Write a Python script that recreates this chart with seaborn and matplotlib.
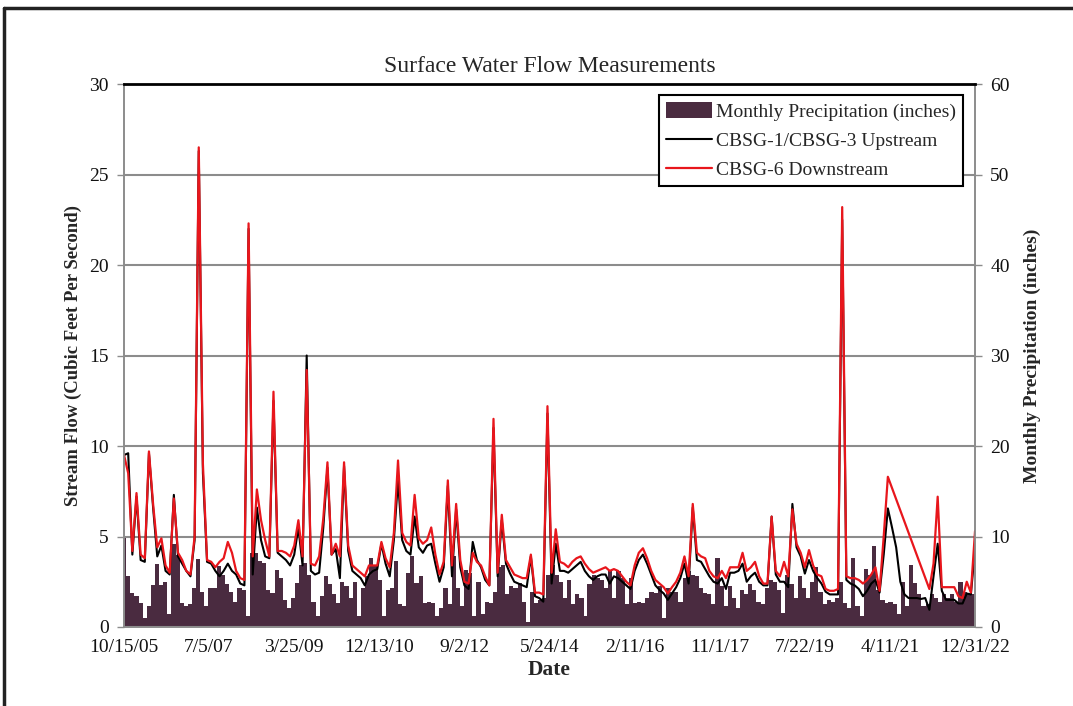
import numpy as np
import pandas as pd
import seaborn as sns
import matplotlib.pyplot as plt
from matplotlib.lines import Line2D
from matplotlib.patches import Patch

# monthly precipitation (inches), Oct 2005 -> Dec 2022
precip = [
    9.8, 5.6, 3.8, 3.4, 2.7, 1.0, 2.3, 4.6, 7.0, 4.6, 5.0, 1.4, 9.2, 8.0, 2.7, 2.3, 2.5, 4.3, 7.5, 3.9,
    2.3, 4.3, 4.3, 6.7, 5.8, 4.7, 3.9, 2.8, 4.3, 4.1, 1.2, 8.2, 8.2, 7.3,
    7.1, 4.1, 3.8, 6.3, 5.4, 3.0, 2.1, 3.2, 4.9, 6.9, 7.1, 5.8, 2.8, 1.2, 3.4, 5.6, 4.7, 3.6, 2.7, 5.0,
    4.5, 3.2, 5.0, 1.2, 4.3, 5.6, 7.6, 6.9, 5.2, 1.2, 4.1, 4.3, 7.3, 2.5, 2.3,
    6.0, 7.8, 4.9, 5.6, 2.7, 2.8, 2.7, 1.2, 2.1, 4.3, 2.5, 7.8, 4.3, 2.3, 6.3, 6.0, 1.2, 5.0, 1.4, 2.8,
    2.7, 3.9, 6.6, 6.9, 3.6, 4.5, 4.3, 4.9, 2.8, 0.6, 3.9, 2.7, 3.0, 3.2, 5.8,
    6.9, 5.8, 5.0, 3.2, 5.2, 2.5, 3.6, 3.2, 1.2, 4.7, 5.8, 5.4, 5.2, 4.3, 6.2, 3.2, 6.2, 5.4, 2.5, 5.4,
    2.7, 2.8, 2.7, 3.2, 3.9, 3.8, 4.5, 1.0, 4.3, 3.9, 3.9, 2.8, 5.4, 6.2, 5.8,
    5.6, 4.3, 3.8, 3.6, 2.5, 7.6, 4.5, 2.3, 4.5, 3.2, 2.1, 4.1, 3.6, 4.7, 4.1, 2.8, 2.5, 4.3, 5.2, 5.0,
    4.1, 1.5, 5.8, 4.7, 3.2, 5.6, 4.3, 3.2, 5.0, 6.6, 3.9, 2.5, 3.0, 2.8, 3.2,
    5.0, 2.7, 2.1, 7.6, 2.3, 1.2, 6.4, 5.8, 9.0, 4.1, 3.0, 2.7, 2.8, 2.5, 1.4, 5.0, 2.3, 6.9, 4.9, 3.6,
    2.3, 2.5, 3.6, 3.2, 2.8, 3.6, 3.2, 3.6, 2.8, 5.0, 3.9, 3.6, 3.6,
]

# CBSG-1/CBSG-3 upstream flow (cfs)
upstream = [
    9.5, 9.6, 4.0, 7.2, 3.7, 3.6, 9.6, 6.6, 3.9, 4.5,
    3.1, 2.9, 7.3, 3.9, 3.5, 3.1, 2.8, 4.8, 26.3, 8.5,
    3.6, 3.5, 3.1, 2.8, 3.1, 3.5, 3.1, 2.9, 2.4, 2.3,
    22.0, 2.9, 6.6, 4.8, 3.9, 3.8, 12.5, 4.1, 3.9, 3.7,
    3.4, 4.0, 5.5, 3.4, 15.0, 3.1, 2.9, 3.0, 5.5, 8.8,
    4.0, 4.3, 2.7, 8.9, 4.2, 3.1, 2.9, 2.7, 2.3, 2.9,
    3.1, 3.2, 4.6, 3.5, 2.8, 4.8, 8.1, 4.8, 4.2, 4.0,
    6.1, 4.4, 4.1, 4.5, 4.6, 3.5, 2.5, 3.3, 7.8, 2.8,
    6.5, 3.3, 2.3, 2.1, 4.7, 3.7, 3.3, 2.6, 2.3, 11.0,
    2.8, 5.9, 3.5, 2.95, 2.5, 2.4, 2.3, 2.2, 3.9, 1.7,
    1.6, 1.4, 11.8, 2.4, 4.6, 3.1, 3.1, 3.0, 3.2, 3.4,
    3.6, 3.1, 2.8, 2.6, 2.8, 2.9, 2.9, 2.4, 2.8, 2.7,
    2.5, 2.3, 2.1, 3.1, 3.7, 4.0, 3.5, 2.9, 2.3, 2.05,
    1.85, 1.5, 1.85, 2.2, 2.7, 3.5, 2.4, 6.6, 3.7, 3.6,
    3.2, 2.8, 2.5, 2.4, 2.7, 2.1, 3.0, 3.0, 3.1, 3.5,
    2.5, 2.8, 3.0, 2.5, 2.3, 2.3, 6.1, 2.9, 2.5, 2.5,
    2.2, 6.8, 4.4, 3.9, 2.95, 3.7, 3.1, 2.7, 2.4, 1.95,
    1.8, 1.8, 1.8, 22.5, 2.6, 2.4, 2.3, 2.1, 1.7, 2.0,
    2.4, 2.6, 1.9, 4.0, 6.55, 5.5, 4.4, 2.5, 1.8, 1.6,
    1.6, 1.6, 1.55, 1.6, 0.95, 2.8, 4.6, 2.0, 1.5, 1.5,
    1.5, 1.3, 1.3, 1.85, 1.8, 4.35,
]

# CBSG-6 downstream flow (cfs), nan = not measured
downstream = [
    9.5, 8.5, 4.2, 7.4, 4.0, 3.8, 9.7, 6.8, 4.4, 4.9,
    3.4, 3.0, 7.1, 4.1, 3.7, 3.1, 2.9, 5.0, 26.5, 9.0,
    3.7, 3.6, 3.3, 3.6, 3.8, 4.7, 4.1, 3.1, 2.7, 2.6,
    22.3, 3.9, 7.6, 5.9, 4.8, 3.9, 13.0, 4.2, 4.2, 4.1,
    3.9, 4.5, 5.9, 3.9, 14.2, 3.5, 3.4, 3.9, 6.0, 9.1,
    4.0, 4.6, 3.9, 9.1, 4.5, 3.4, 3.2, 3.0, 2.8, 3.4,
    3.4, 3.4, 4.7, 3.8, 3.3, 5.2, 9.2, 5.2, 4.7, 4.5,
    7.3, 4.9, 4.6, 4.8, 5.5, 4.0, 2.9, 3.6, 8.1, 3.4,
    6.8, 3.7, 2.5, 2.4, 4.1, 3.6, 3.4, 2.8, 2.3, 11.5,
    3.0, 6.2, 3.7, 3.3, 2.9, 2.8, 2.7, 2.7, 4.0, 1.9,
    1.9, 1.8, 12.2, 3.0, 5.4, 3.6, 3.5, 3.3, 3.6, 3.8,
    3.9, 3.5, 3.2, 3.0, 3.1, 3.2, 3.3, 3.1, 3.2, 3.1,
    2.8, 2.5, 2.3, 3.4, 4.1, 4.35, 3.8, 3.1, 2.6, 2.4,
    2.2, 1.85, 2.2, 2.5, 3.0, 3.9, 2.8, 6.8, 4.1, 3.9,
    3.8, 3.1, 2.8, 2.7, 3.1, 2.7, 3.3, 3.3, 3.3, 4.1,
    3.1, 3.3, 3.6, 2.8, 2.4, 2.4, 6.1, 3.1, 2.8, 3.6,
    2.8, 6.5, 4.6, 4.1, 3.3, 4.25, 3.4, 2.9, 2.8, 2.1,
    2.0, 2.0, 2.1, 23.2, 2.8, 2.7, 2.7, 2.6, 2.4, 2.6,
    2.9, 3.3, 2.0, 5.0, 8.3, np.nan, np.nan, np.nan, np.nan, np.nan,
    np.nan, np.nan, np.nan, np.nan, 2.1, 3.5, 7.2, 2.2, 2.2, 2.2,
    2.2, 1.7, 1.6, 2.5, 1.9, 5.3,
]

tick_labels = ["10/15/05", "7/5/07", "3/25/09", "12/13/10", "9/2/12", "5/24/14",
               "2/11/16", "11/1/17", "7/22/19", "4/11/21", "12/31/22"]

start, end = pd.Timestamp("2005-10-15"), pd.Timestamp("2022-12-31")
bar_dates = pd.date_range("2005-10-01", periods=len(precip), freq="MS") + pd.Timedelta(days=14)
flow = pd.DataFrame({
    "date": pd.date_range(start, end, periods=len(upstream)),
    "up": upstream,
    "down": downstream,
})

sns.set_style("white")
plt.rcParams["font.family"] = ["Liberation Serif", "DejaVu Serif"]

fig = plt.figure(figsize=(10.73, 7.06), dpi=100)
ax = fig.add_axes([0.1156, 0.1119, 0.7931, 0.7691])
ax2 = ax.twinx()
ax.set_zorder(2)
ax2.set_zorder(1)
ax.patch.set_visible(False)

bar_col = "#4a2b40"
ax2.bar(bar_dates, precip, width=31, color=bar_col, linewidth=0)

sns.lineplot(data=flow, x="date", y="up", ax=ax, color="black", lw=1.5, legend=False)
sns.lineplot(data=flow.dropna(subset=["down"]), x="date", y="down", ax=ax,
             color="#e8161c", lw=1.6, legend=False)

ax.set_xlim(start, end)
ax.set_ylim(0, 30)
ax2.set_ylim(0, 60)
ax.set_yticks(range(0, 31, 5))
ax2.set_yticks(range(0, 61, 10))
ax.set_xticks(pd.to_datetime(tick_labels, format="%m/%d/%y"))
ax.set_xticklabels(tick_labels)

ax.yaxis.grid(True, color="#8c8c8c", lw=1.5)
for a in (ax, ax2):
    for s in a.spines.values():
        s.set_color("#8c8c8c")
        s.set_linewidth(1.2)
    a.tick_params(direction="out", length=5, width=1, color="#8c8c8c",
                  labelsize=14, labelcolor="#111111")
ax.spines["top"].set_color("black")
ax.spines["top"].set_linewidth(2)
ax2.spines["top"].set_visible(False)
ax.tick_params(axis="y", pad=6)
ax2.tick_params(axis="y", pad=6)

ax.set_title("Surface Water Flow Measurements", fontsize=17, pad=9)
ax.set_xlabel("Date", fontsize=15.5, fontweight="bold", labelpad=3)
ax.set_ylabel("Stream Flow (Cubic Feet Per Second)", fontsize=13.5, fontweight="bold", labelpad=5)
ax2.set_ylabel("Monthly Precipitation (inches)", fontsize=14, fontweight="bold", labelpad=10)

handles = [Patch(facecolor=bar_col, edgecolor="none"),
           Line2D([], [], color="black", lw=1.5),
           Line2D([], [], color="#e8161c", lw=1.6)]
labels = ["Monthly Precipitation (inches)", "CBSG-1/CBSG-3 Upstream", "CBSG-6 Downstream"]
leg = ax.legend(handles, labels, loc="upper right", bbox_to_anchor=(0.986, 0.98),
                borderaxespad=0, fontsize=14, fancybox=False, framealpha=1,
                edgecolor="black", handlelength=2.4, handletextpad=0.2,
                labelspacing=0.55, borderpad=0.35, handleheight=0.9)
leg.get_frame().set_linewidth(1.5)

# outer frame of the exhibit (top and left edges visible)
fig.add_artist(Line2D([0.004, 1], [0.988, 0.988], color="#222222", lw=2.5))
fig.add_artist(Line2D([0.004, 0.004], [0, 0.988], color="#222222", lw=2.5))

fig.savefig("out.png", dpi=100)
